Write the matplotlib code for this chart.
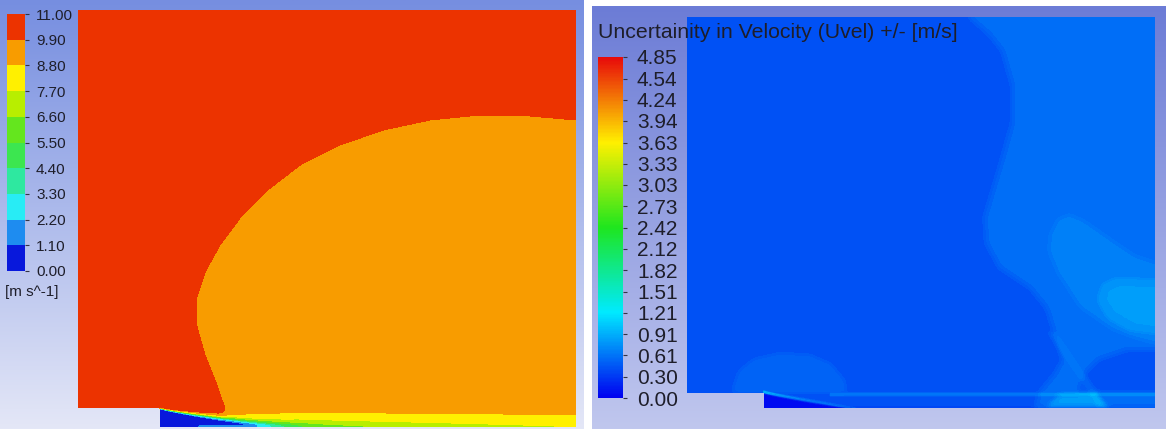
import numpy as np
import matplotlib.pyplot as plt
from matplotlib.colors import ListedColormap, LinearSegmentedColormap, Normalize
from matplotlib.path import Path
from matplotlib.cm import ScalarMappable

plt.rcParams['font.family'] = ['Liberation Sans', 'DejaVu Sans']

W, H = 1166, 429  # taille de la figure en pixels

############################### données ###############################

# géométrie du canal (mm) : marche descendante
L = 498        # longueur du domaine
HAUT = 417     # hauteur totale
XS = 82        # position de la marche

# --- vitesse (panneau gauche) ---
u_levels = [0.00, 1.10, 2.20, 3.30, 4.40, 5.50, 6.60, 7.70, 8.80, 9.90, 11.00]
u_free = 10.4   # écoulement extérieur
u_bulb = 9.4    # zone ralentie
hs_u = 19       # hauteur de marche

# contour de la zone ralentie (mm)
bulb_x = [510, 498, 452, 402, 352, 305, 262, 222, 187, 162, 142, 127, 118, 119, 127, 137, 144, 147, 150, 510]
bulb_y = [307, 307, 311, 312, 307, 297, 282, 262, 235, 209, 182, 155, 127, 100, 72, 47, 27, 19, -10, -10]

# --- incertitude (panneau droit) ---
unc_ticks = [0.00, 0.30, 0.61, 0.91, 1.21, 1.51, 1.82, 2.12, 2.42, 2.73, 3.03, 3.33,
             3.63, 3.94, 4.24, 4.54, 4.85]
unc_max = 4.85
unc_base = 0.43
hs_e = 17

# zones de l'incertitude : contour (mm) et incrément
zone_a_x = [302, 302, 322, 336, 346, 347, 333, 317, 319, 333, 365, 383, 400, 391, 376, 370, 370, 515, 515]
zone_a_y = [430, 416, 399, 381, 346, 306, 256, 203, 176, 150, 129, 107, 51, 35, 17, 0, -10, -10, 430]
zone_a_val = 0.13

zone_b_x = [384, 386, 394, 407, 423, 453, 477, 510, 510, 477, 453, 418, 394]
zone_b_y = [168, 186, 202, 207, 200, 179, 163, 152, 65, 74, 83, 107, 144]
zone_b_val = 0.10

zone_c_x = [437, 442, 455, 510, 510, 471, 448]
zone_c_y = [115, 131, 138, 136, 78, 83, 96]
zone_c_val = 0.14

poche_x = [416, 423, 439, 466, 510, 510]
poche_y = [16, 38, 53, 62, 62, 16]
poche_val = -0.13

trace_x = [385, 393, 447, 439]
trace_y = [80, 80, 0, 0]
trace_val = 0.09

bosse_x = [49, 56, 72, 99, 131, 152, 166, 169]
bosse_y = [17, 38, 51, 57, 55, 46, 29, 17]
bosse_val = 0.12

tache_x = [381, 397, 434, 450]
tache_y = [0, 14, 16, 0]
tache_val = 0.25

############################### outils ###############################

def px_axes(fig, x0, y0, x1, y1, **kw):  # axes placé en pixels (origine en haut à gauche)
    return fig.add_axes([x0 / W, 1 - y1 / H, (x1 - x0) / W, (y1 - y0) / H], **kw)

def flou(a, s):  # flou gaussien séparable
    n = int(3 * s)
    k = np.exp(-0.5 * (np.arange(-n, n + 1) / s) ** 2)
    k /= k.sum()
    a = np.pad(a, n, mode='edge')
    a = np.apply_along_axis(lambda r: np.convolve(r, k, 'valid'), 1, a)
    a = np.apply_along_axis(lambda c: np.convolve(c, k, 'valid'), 0, a)
    return a

def zone(xs, ys, X, Y, s=2.5):  # indicatrice lissée d'un polygone
    p = Path(np.column_stack([xs, ys]))
    m = p.contains_points(np.column_stack([X.ravel(), Y.ravel()])).reshape(X.shape)
    return flou(m.astype(float), s)

def fond(ax, haut, bas):  # dégradé vertical du fond
    c = np.linspace(0, 1, 256)[:, None, None]
    img = (1 - c) * np.array(haut)[None, None, :] + c * np.array(bas)[None, None, :]
    ax.imshow(img / 255, aspect='auto', extent=[0, 1, 0, 1], origin='upper')
    ax.set_xlim(0, 1)
    ax.set_ylim(0, 1)
    ax.axis('off')

x = np.arange(0, L + 0.5, 1.0)
y = np.arange(0, HAUT + 0.5, 1.0)
X, Y = np.meshgrid(x, y)

############################### champ de vitesse ###############################

Utop = u_free + (u_bulb - u_free) * zone(bulb_x, bulb_y, X, Y, 3)

r = np.clip((X - XS) / 138, 0, None)
yd = hs_u * (1 - r ** 0.8)                     # ligne de séparation
w = np.maximum(0.6 + 0.03 * (X - XS), 0.6)      # épaisseur couche de cisaillement
S = np.where(X >= XS, 0.5 * (1 + np.tanh((Y - yd) / w)), 1.0)
a = np.where(X < 220, 2.5 * np.clip((X - XS) / 138, 0, 1), 2.5 - 0.9 * (X - 220) / 278)
D = a * np.clip(1 - Y / hs_u, 0, None)          # couche limite en paroi
fen = np.clip(np.sin(np.pi * (X - XS) / 170), 0, None) * (X >= XS) * (X <= XS + 170)
R = 1.5 * np.sqrt(fen) * np.exp(-((Y - 0.5) / 1.6) ** 2)  # écoulement de retour
U = (Utop - D) * S + R
U[(X < XS) & (Y < hs_u)] = np.nan
U = np.ma.masked_invalid(U)

############################### champ d'incertitude ###############################

V = np.full(X.shape, unc_base)
V += zone_a_val * zone(zone_a_x, zone_a_y, X, Y)
V += zone_b_val * zone(zone_b_x, zone_b_y, X, Y)
V += zone_c_val * zone(zone_c_x, zone_c_y, X, Y)
V += poche_val * zone(poche_x, poche_y, X, Y)
V += trace_val * zone(trace_x, trace_y, X, Y, 1.5)
V += bosse_val * zone(bosse_x, bosse_y, X, Y)
V += tache_val * zone(tache_x, tache_y, X, Y)

rl = np.clip((X - XS) / 93, 0, None)
yl = hs_e * (1 - rl ** 0.9)
dans = X >= XS
crete = 0.65 * np.exp(-((Y - yl) / 1.0) ** 2) * np.exp(-(X - XS) / 90) * dans
recirc = np.where(dans & (X < XS + 95), 0.2 + 0.8 * 0.5 * (1 + np.tanh((Y - yl) / 0.8)), 1.0)
paroi = 1 - 0.35 * np.exp(-Y / 1.5)
ligne = 0.2 * np.exp(-((Y - 14.5) / 1.5) ** 2) * (X > XS + 70)
V = V * recirc * paroi + crete + ligne
V[(X < XS) & (Y < hs_e)] = np.nan
V = np.ma.masked_invalid(V)

############################### figure ###############################

fig = plt.figure(figsize=(W / 100, H / 100), dpi=100, facecolor='white')

fond(px_axes(fig, 0, 0, 584, 429), (118, 142, 224), (228, 231, 247))
fond(px_axes(fig, 592, 6, 1166, 429), (108, 124, 214), (192, 199, 238))

# panneau gauche : vitesse
cmap_u = ListedColormap(['#0818dc', '#1e8cf0', '#28ecf5', '#2ee8a0', '#3ce650',
                         '#64e61e', '#b8ee00', '#fff000', '#f89c00', '#ec3300'])
ax1 = px_axes(fig, 78, 10, 576, 427)
cs1 = ax1.contourf(X, Y, U, levels=u_levels, cmap=cmap_u, vmin=0, vmax=11)
ax1.set_xlim(0, L)
ax1.set_ylim(0, HAUT)
ax1.axis('off')

cax1 = px_axes(fig, 7, 14, 25, 271)
cb1 = fig.colorbar(cs1, cax=cax1, ticks=u_levels, format='%.2f')
cb1.outline.set_visible(False)
cax1.tick_params(length=3, width=0.8, color='#333344', pad=5, labelsize=11, labelcolor='#1e1e2a')
fig.text(5 / W, 1 - 292 / H, '[m s^-1]', fontsize=11, color='#1e1e2a', ha='left', va='center')

# panneau droit : incertitude
cmap_e = LinearSegmentedColormap.from_list(
    'arc', [(0.0, '#0000f0'), (0.25, '#00eaff'), (0.5, '#1ee61e'), (0.75, '#fff000'), (1.0, '#e80a0a')])
norm_e = Normalize(0, unc_max)
ax2 = px_axes(fig, 687, 17, 1155, 408)
ax2.contourf(X, Y, V, levels=np.linspace(0, unc_max, 98), cmap=cmap_e, norm=norm_e)
ax2.set_xlim(0, L)
ax2.set_ylim(0, HAUT)
ax2.axis('off')

cax2 = px_axes(fig, 598, 57, 623, 398)
cb2 = fig.colorbar(ScalarMappable(norm_e, cmap_e), cax=cax2, ticks=unc_ticks, format='%.2f')
cb2.outline.set_visible(False)
cax2.tick_params(length=3, width=0.8, color='#333344', pad=7, labelsize=15, labelcolor='#1e1e2a')

fig.text(598 / W, 1 - 33 / H, 'Uncertainity in Velocity (Uvel) +/- [m/s]', fontsize=15.3,
         color='#1e1e2a', ha='left', va='center')

fig.savefig('out.png', dpi=100, facecolor='white')
